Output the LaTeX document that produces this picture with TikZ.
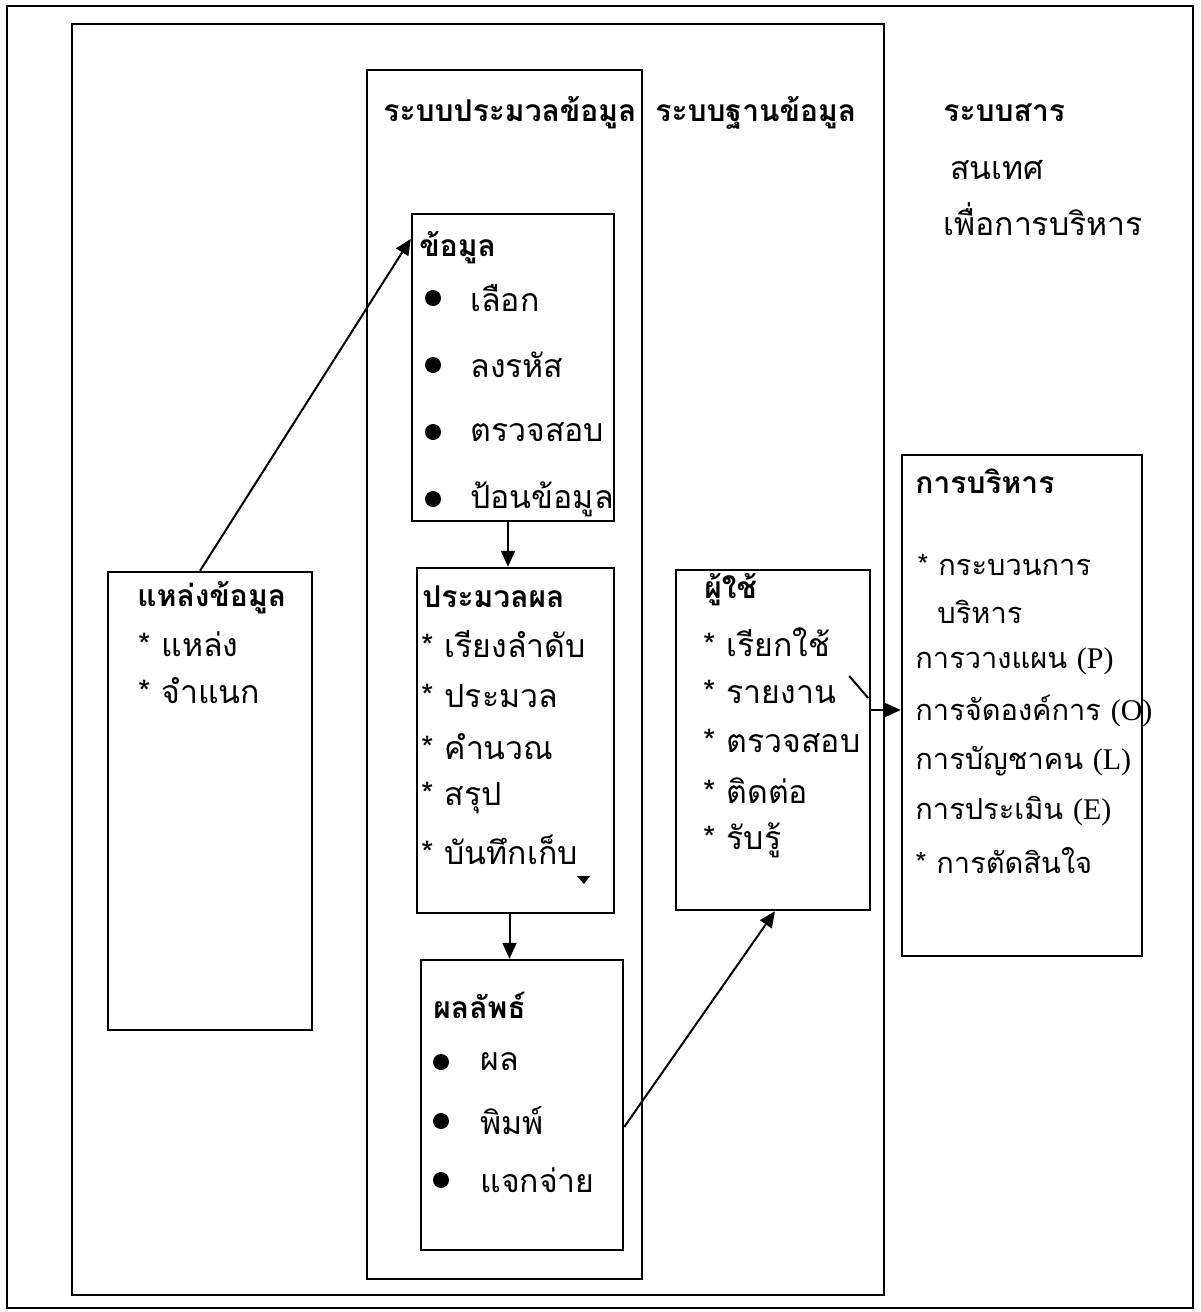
\documentclass[tikz,border=0pt]{standalone}
\usepackage{fontspec}
\setmainfont{Liberation Serif}
\newfontfamily\thaifont[Script=Thai]{Loma}
\newfontfamily\latinfont{Liberation Serif}
\usetikzlibrary{arrows.meta,fit}

\tikzset{
  frame/.style={draw, line width=1.0pt, inner sep=0pt},
  box/.style={draw, line width=1.2pt, inner sep=0pt},
  txt/.style={anchor=west, inner sep=0pt, font=\thaifont\fontsize{16}{19}\selectfont},
  mtxt/.style={anchor=west, inner sep=0pt, font=\thaifont\fontsize{14.5}{18}\selectfont},
  head/.style={anchor=west, inner sep=0pt, font=\thaifont\bfseries\fontsize{15}{18}\selectfont},
  dot/.style={circle, fill, inner sep=0pt, minimum size=8pt},
  link/.style={line width=1pt, -{Triangle[length=8pt,width=7pt]}},
}
\newcommand\lat[1]{{\latinfont\fontsize{15}{18}\selectfont #1}}

\begin{document}
\begin{tikzpicture}[x=0.5pt, y=-0.5pt]
\useasboundingbox (0,0) rectangle (1200,1312);

% frames
\node[frame, fit={(7,6)(1193,1308)}] (outer) {};
\node[frame, line width=1.2pt, fit={(72,24)(884,1295)}] (dbframe) {};
\node[frame, fit={(367,70)(642,1279)}] (proccol) {};

% column headings
\node[head] (h1) at (383,113) {ระบบประมวลข้อมูล};
\node[head] (h2) at (655,113) {ระบบฐานข้อมูล};
\node[head] (h3) at (943,113) {ระบบสาร};
\node[txt] (h3b) at (950,170) {สนเทศ};
\node[txt] (h3c) at (943,219) {เพื่อการบริหาร};

% data input box
\node[box, fit={(412,214)(614,521)}] (data) {};
\node[head] (datat) at (419,248) {ข้อมูล};
\foreach \t [count=\i] in {เลือก,ลงรหัส,ตรวจสอบ,ป้อนข้อมูล} {
  \node[dot] (datad\i) at (433,298+67*\i-67) {};
  \node[txt] (datai\i) at (470,298+67*\i-67) {\t};
}

% processing box
\node[box, fit={(417,568)(614,913)}] (proc) {};
\node[head] (proct) at (422,597) {ประมวลผล};
\foreach \t [count=\i] in {เรียงลำดับ,ประมวล,คำนวณ,สรุป,บันทึกเก็บ} {
  \node[txt] (proci\i) at (421,644+51.5*\i-51.5) {* \t};
}
\fill (577,876) -- (590,876) -- (584,884) -- cycle;

% output box
\node[box, fit={(421,960)(623,1250)}] (result) {};
\node[head] (resultt) at (433,1005) {ผลลัพธ์};
\foreach \t [count=\i] in {ผล,พิมพ์,แจกจ่าย} {
  \node[dot] (resultd\i) at (441,1062+59*\i-59) {};
  \node[txt] (resulti\i) at (480,1062+59*\i-59) {\t};
}

% data source box
\node[box, fit={(108,572)(312,1030)}] (src) {};
\node[head] (srct) at (137,598) {แหล่งข้อมูล};
\node[txt] (srci1) at (138,644) {* แหล่ง};
\node[txt] (srci2) at (138,691) {* จำแนก};

% user box
\node[box, fit={(676,570)(870,910)}] (user) {};
\node[head] (usert) at (704,590) {ผู้ใช้};
\foreach \t [count=\i] in {เรียกใช้,รายงาน,ตรวจสอบ,ติดต่อ,รับรู้} {
  \node[txt] (useri\i) at (703,642+49.5*\i-49.5) {* \t};
}

% management box
\node[box, fit={(902,455)(1142,956)}] (mgmt) {};
\node[head] (mgmtt) at (915,481) {การบริหาร};
\node[mtxt] (mgmt1) at (917,565) {* กระบวนการ};
\node[mtxt] (mgmt2) at (937,612) {บริหาร};
\node[mtxt] (mgmt3) at (915,661) {การวางแผน \lat{(P)}};
\node[mtxt] (mgmt4) at (915,711) {การจัดองค์การ \lat{(O)}};
\node[mtxt] (mgmt5) at (915,761) {การบัญชาคน \lat{(L)}};
\node[mtxt] (mgmt6) at (915,811) {การประเมิน \lat{(E)}};
\node[mtxt] (mgmt7) at (915,861) {* การตัดสินใจ};

% connectors
\draw[link] ([xshift=-5pt]src.north) -- ([yshift=-13pt]data.north west);
\draw[link] ([xshift=-2.5pt]data.south) -- ([xshift=-2.5pt]data.south |- proc.north);
\draw[link] ([xshift=-3pt]proc.south) -- ([xshift=-3pt]proc.south |- result.north);
\draw[link] ([yshift=-11pt]result.east) -- ([xshift=1pt]user.south);
\coordinate (ue) at ([yshift=15pt]user.east);
\draw[link] (ue) -- (ue -| mgmt.west);
\draw[line width=1pt] ([xshift=-11pt,yshift=32pt]user.east) -- ([xshift=-1.5pt,yshift=21pt]user.east);
\end{tikzpicture}
\end{document}
